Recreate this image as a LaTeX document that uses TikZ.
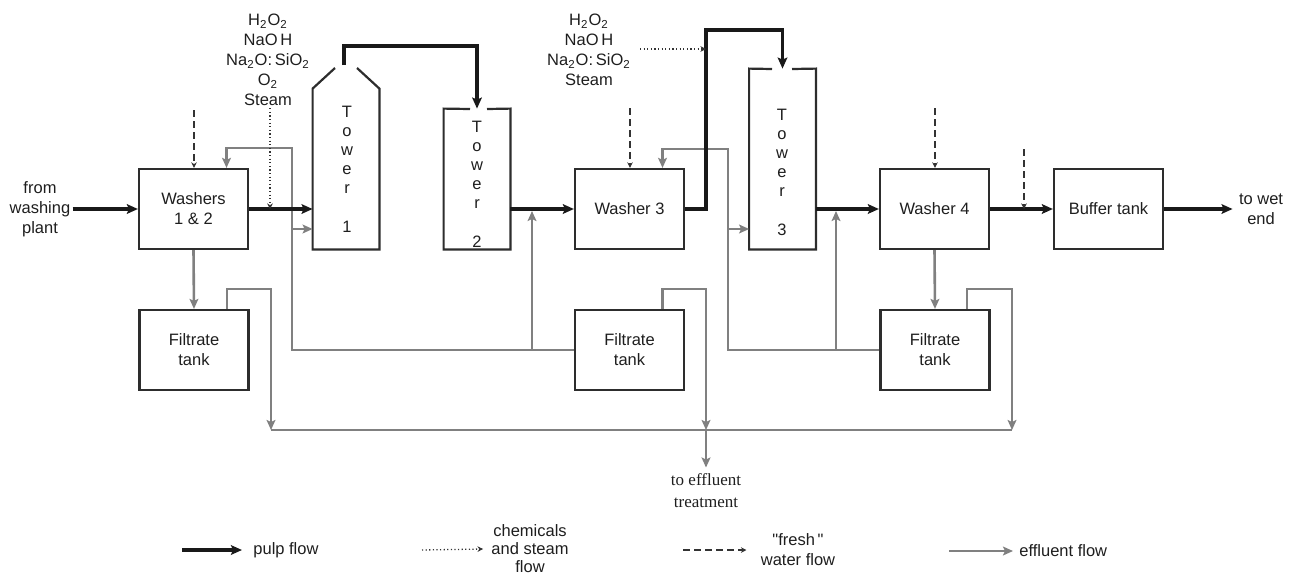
\documentclass[tikz,border=0pt]{standalone}
\usepackage{fontspec}
\setmainfont{Liberation Sans}
\newfontfamily\serifx{Liberation Serif}
\newfontfamily\qfont[Ligatures=TeXOff]{Liberation Sans}
\usetikzlibrary{arrows.meta,calc}
\definecolor{effc}{RGB}{128,128,128}
\definecolor{boxc}{RGB}{45,45,45}
\definecolor{txtc}{RGB}{30,30,30}
\begin{document}
\begin{tikzpicture}[x=0.5pt,y=-0.5pt,
  every node/.style={font=\fontsize{8.25}{10}\selectfont, text=txtc},
  box/.style={draw=boxc, line width=1.1pt, minimum width=54.5pt, minimum height=40pt, inner sep=0pt, align=center},
  towerbox/.style={minimum width=33pt, inner sep=0pt},
  tline/.style={draw=boxc, line width=1.1pt},
  vtext/.style={align=center, inner sep=0pt, font=\fontsize{8.25}{9.6}\selectfont},
  pulp/.style={draw=black!90, line width=1.6pt, -{Stealth[length=5.5pt,width=4.8pt,inset=1pt]}},
  eff/.style={draw=effc, line width=1.3pt, -{Stealth[length=5pt,width=4.4pt,inset=1pt]}},
  effline/.style={draw=effc, line width=1.3pt},
  water/.style={draw=black!80, line width=0.65pt, dash pattern=on 3.5pt off 2pt, -{Stealth[length=2.8pt,width=2.8pt]}},
  chemline/.style={draw=black!80, line width=0.65pt, dash pattern=on 0.6pt off 1.2pt, -{Stealth[length=2.8pt,width=2.8pt]}},
  lbl/.style={align=center, inner sep=1pt}
]
\useasboundingbox (0,0) rectangle (1295,574);

% main boxes
\node[box] (w12) at (193.5,209) {Washers\\1 \& 2};
\node[box] (w3) at (629.5,209) {Washer 3};
\node[box] (w4) at (934.5,209) {Washer 4};
\node[box] (buf) at (1108.5,209) {Buffer tank};
\node[box] (ft1) at (194,350) {Filtrate\\tank};
\node[box] (ft2) at (629.5,350) {Filtrate\\tank};
\node[box] (ft3) at (935,350) {Filtrate\\tank};

% towers
\node[towerbox, minimum height=80pt] (t1) at (346,169) {};
\node[towerbox, minimum height=70pt] (t2) at (477,179) {};
\node[towerbox, minimum height=90pt] (t3) at (782.5,159) {};
\draw[tline] (335,68) -- (t1.north west) -- (t1.south west) -- (t1.south east) -- (t1.north east) -- (357,68);
\draw[tline] (470,109) -- (t2.north west) -- (t2.south west) -- (t2.south east) -- (t2.north east) -- (487,109);
\draw[tline] (772,69) -- (t3.north west) -- (t3.south west) -- (t3.south east) -- (t3.north east) -- (792,69);
\node[vtext] (t1l) at (347,169) {T\\o\\w\\e\\r\\[9.6pt]1};
\node[vtext] (t2l) at (477,184) {T\\o\\w\\e\\r\\[9.6pt]2};
\node[vtext] (t3l) at (782,172) {T\\o\\w\\e\\r\\[9.6pt]3};

% texts
\node[lbl] (from) at (40,209) {from\\washing\\plant};
\node[lbl] (wet) at (1261,209) {to wet\\end};
\node[lbl] (c1) at (268,60) {H\textsubscript{2}O\textsubscript{2}\\NaO\,H\\Na\textsubscript{2}O:\,SiO\textsubscript{2}\\O\textsubscript{2}\\Steam};
\node[lbl] (c2) at (589,50) {H\textsubscript{2}O\textsubscript{2}\\NaO\,H\\Na\textsubscript{2}O:\,SiO\textsubscript{2}\\Steam};
\node[lbl, font=\serifx\fontsize{8.5}{11}\selectfont, inner sep=3pt] (effl) at (706,491) {to effluent\\treatment};

% free ends and junctions
\coordinate (d1) at (194,110);
\coordinate (d2) at (630,108);
\coordinate (d3) at (935,108);
\coordinate (d4) at (1024,149);
\coordinate (t1top) at (344,65);
\coordinate (ch1) at ([xshift=1pt]c1.south);
\coordinate (ch2) at (640,49);
\coordinate (rise) at (706,209);
\coordinate (r1) at (292,148);
\coordinate (r2) at (728,149);
\coordinate (j1) at (532,350);
\coordinate (j2) at (836,350);
\coordinate (t1in) at ([yshift=-30pt]t1.west);
\coordinate (t3in) at ([yshift=-35pt]t3.west);
\coordinate (s1) at (271,430);
\coordinate (s2) at (706,430);
\coordinate (s3) at (1012,430);

% effluent flow
\draw[eff] (w12.south) -- (ft1.north);
\draw[eff] (w4.south) -- (ft3.north);
\draw[eff] ([xshift=16.5pt]ft1.north) -- ++(0,-20) -| (s1);
\draw[eff] ([xshift=16.5pt]ft2.north) -- ++(0,-20) -| (s2);
\draw[eff] ([xshift=16pt]ft3.north) -- ++(0,-20) -| (s3);
\draw[effline] (s1) -- (s3);
\draw[eff] (s2) -- (effl.north);
\draw[eff] (ft2.west) -| (r1) -| ([xshift=16.5pt]w12.north);
\draw[eff] (r1 |- t1in) -- (t1in);
\draw[eff, shorten >=1pt] (j1) -- (j1 |- w3.west);
\draw[eff] (ft3.west) -| (r2) -| ([xshift=16.5pt]w3.north);
\draw[eff] (r2 |- t3in) -- (t3in);
\draw[eff, shorten >=1pt] (j2) -- (j2 |- w4.west);

% pulp flow
\draw[pulp] (from.east) -- (w12.west);
\draw[pulp] (w12.east) -- (w12.east -| t1.west);
\draw[pulp] (t1top) -- ++(0,-19) -| (t2.north);
\draw[pulp] (w3.west -| t2.east) -- (w3.west);
\draw[pulp] (w3.east) -- (rise) -- ++(0,-179) -| (t3.north);
\draw[pulp] (w4.west -| t3.east) -- (w4.west);
\draw[pulp] (w4.east) -- (buf.west);
\draw[pulp] (buf.east) -- ([xshift=-2pt]wet.west);

% fresh water
\draw[water] (d1) -- (d1 |- w12.north);
\draw[water] (d2) -- (d2 |- w3.north);
\draw[water] (d3) -- (d3 |- w4.north);
\draw[water] (d4) -- (d4 |- w4.east);

% chemicals and steam
\draw[chemline] (ch1) -- (ch1 |- w12.east);
\draw[chemline] (ch2) -- (ch2 -| rise);

% legend
\coordinate (lg1s) at (182,550);
\node[anchor=west, inner sep=0pt] (lg1) at (253,550) {pulp flow};
\draw[pulp] (lg1s) -- ([xshift=-5.5pt]lg1.west);
\coordinate (lg2s) at (422,550);
\node[align=center, inner sep=0pt, font=\fontsize{8.25}{9}\selectfont] (lg2) at (530,549) {chemicals\\and steam\\flow};
\draw[chemline] (lg2s) -- ([xshift=-4pt]lg2.west);
\coordinate (lg3s) at (683,550);
\node[align=center, inner sep=0pt] (lg3) at (798,550) {{\qfont"fresh\,"}\\water flow};
\draw[water] (lg3s) -- ([xshift=-7pt]lg3.west);
\coordinate (lg4s) at (949,551);
\node[anchor=west, inner sep=0pt] (lg4) at (1019,551) {effluent flow};
\draw[eff] (lg4s) -- ([xshift=-3pt]lg4.west);
\end{tikzpicture}
\end{document}
